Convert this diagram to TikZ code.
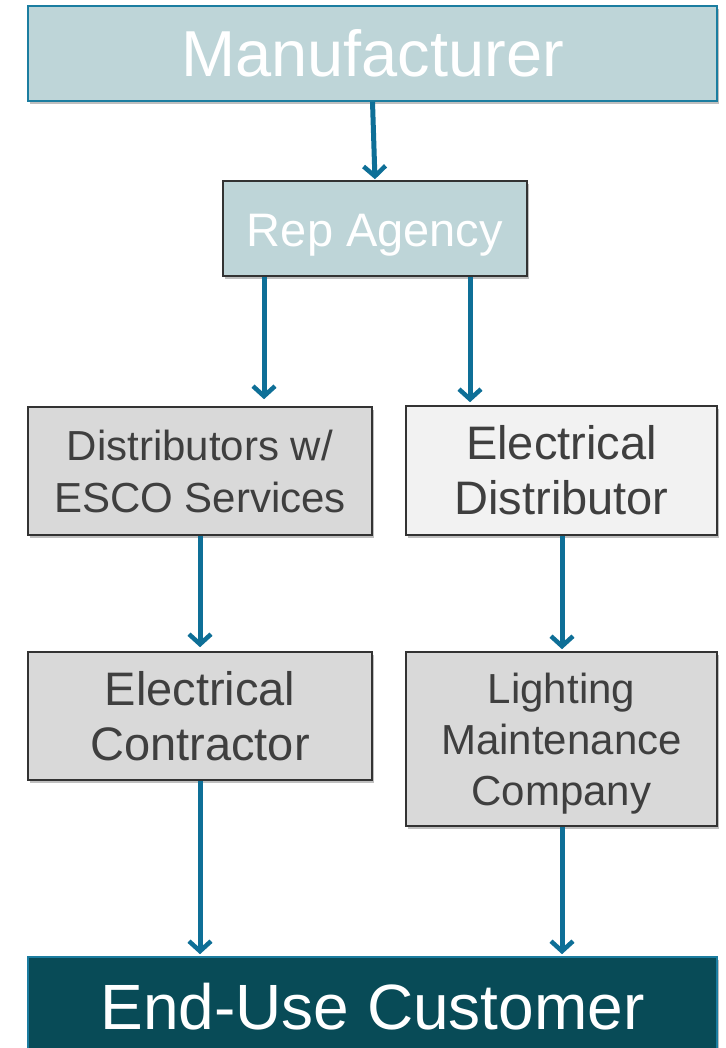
\documentclass[tikz,border=0pt]{standalone}
\usepackage{fontspec}
\setmainfont{Liberation Sans}
\usetikzlibrary{arrows.meta,shadows}
\definecolor{tealfill}{HTML}{BED5D8}
\definecolor{tealedge}{HTML}{1B7DA0}
\definecolor{arrowc}{HTML}{0E6F97}
\definecolor{darkfill}{HTML}{084B57}
\definecolor{grayfill}{HTML}{D9D9D9}
\definecolor{lightfill}{HTML}{F2F2F2}
\definecolor{boxedge}{HTML}{333333}
\definecolor{txt}{HTML}{3F3F3F}
\tikzset{
  box/.style={rectangle, draw=boxedge, line width=1.6pt, inner sep=0pt, align=center,
    drop shadow={shadow xshift=2pt, shadow yshift=-3pt, opacity=0.25, fill=black}},
  tealbox/.style={box, fill=tealfill, text=white},
  graybox/.style={box, fill=grayfill, text=txt},
  lightbox/.style={box, fill=lightfill, text=txt},
  arr/.style={draw=arrowc, line width=5pt, -{Straight Barb[length=10pt,width=22pt,line width=4.5pt]}},
}
\begin{document}
\begin{tikzpicture}[x=1pt,y=1pt]
\useasboundingbox[fill=white] (0,0) rectangle (725,-1048);
\node[tealbox, draw=tealedge, minimum width=689pt, minimum height=95pt,
  font=\fontsize{65}{70}\selectfont] (man) at (372.5,-53.5) {Manufacturer};
\node[tealbox, minimum width=304pt, minimum height=95pt, text height=36pt, text depth=0pt,
  font=\fontsize{47}{52}\selectfont] (rep) at (375,-228.5) {Rep Agency};
\node[graybox, minimum width=344pt, minimum height=128pt,
  font=\fontsize{42}{52}\selectfont] (dist) at (200,-471) {Distributors w/\\ESCO Services};
\node[lightbox, minimum width=311pt, minimum height=129pt,
  font=\fontsize{47}{55}\selectfont] (edist) at (561.5,-470.5) {Electrical\\Distributor};
\node[graybox, minimum width=344pt, minimum height=128pt,
  font=\fontsize{47}{55}\selectfont] (cont) at (200,-716) {Electrical\\Contractor};
\node[graybox, minimum width=311pt, minimum height=174pt, text depth=0pt,
  font=\fontsize{42}{51}\selectfont] (light) at (561.5,-739) {Lighting\\Maintenance\\Company};
\node[box, draw=tealedge, fill=darkfill, text=white, minimum width=689pt, minimum height=100pt,
  font=\fontsize{64}{70}\selectfont] (end) at (372.5,-1007) {End-Use Customer};
\draw[arr, shorten >=1pt] (man.south) -- ([xshift=0pt]rep.north);
\draw[arr, shorten >=7pt] ([xshift=-111pt]rep.south) -- ([xshift=64pt]dist.north);
\draw[arr, shorten >=3pt] ([xshift=95pt]rep.south) -- ([xshift=-91.5pt]edist.north);
\draw[arr, shorten >=4pt] (dist.south) -- (cont.north);
\draw[arr, shorten >=2pt] ([xshift=0.5pt]edist.south) -- ([xshift=0.5pt]light.north);
\draw[arr, shorten >=2pt] (cont.south) -- ([xshift=-172.5pt]end.north);
\draw[arr, shorten >=2pt] ([xshift=0.5pt]light.south) -- ([xshift=189.5pt]end.north);
\end{tikzpicture}
\end{document}
